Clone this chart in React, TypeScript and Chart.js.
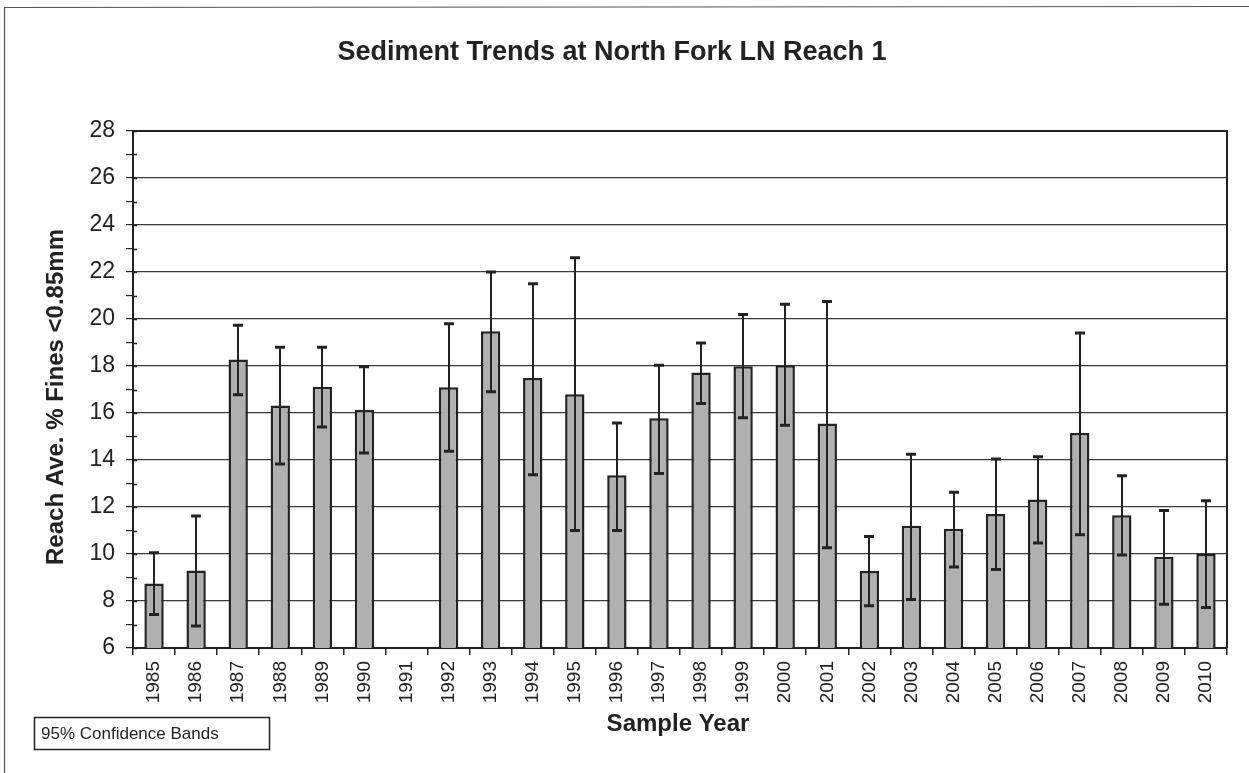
import React, { useEffect, useRef } from "react";
import { Chart, registerables } from "chart.js";

Chart.register(...registerables);

const years = [
  "1985", "1986", "1987", "1988", "1989", "1990", "1991", "1992", "1993",
  "1994", "1995", "1996", "1997", "1998", "1999", "2000", "2001", "2002",
  "2003", "2004", "2005", "2006", "2007", "2008", "2009", "2010",
];

const meanFines = [
  8.75, 9.3, 18.28, 16.32, 17.12, 16.14, null, 17.1, 19.48, 17.49, 16.8,
  13.35, 15.78, 17.72, 17.99, 18.03, 15.55, 9.28, 11.2, 11.07, 11.7, 12.32,
  15.15, 11.65, 9.88, 10.0,
];

const lowerCI = [
  7.43, 6.94, 16.78, 13.83, 15.4, 14.3, null, 14.37, 16.9, 13.37, 11.0,
  11.0, 13.43, 16.4, 15.8, 15.48, 10.27, 7.8, 8.06, 9.45, 9.34, 10.47,
  10.82, 9.96, 7.86, 7.72,
];

const upperCI = [
  10.05, 11.62, 19.73, 18.8, 18.8, 17.97, null, 19.8, 22.0, 21.5, 22.61,
  15.57, 18.03, 18.98, 20.19, 20.63, 20.74, 10.75, 14.25, 12.63, 14.04,
  14.14, 19.4, 13.33, 11.85, 12.27,
];

const yTickValues = [
  6, 7, 8, 9, 10, 11, 12, 13, 14, 15, 16, 17, 18, 19, 20, 21, 22, 23, 24,
  25, 26, 27, 28,
];

const chartTitle = "Sediment Trends at North Fork LN Reach 1";
const yAxisTitle = "Reach Ave. % Fines <0.85mm";
const xAxisTitle = "Sample Year";
const legendNote = "95% Confidence Bands";

const FONT = "'Liberation Sans', Arial, Helvetica, sans-serif";
const INK = "#222222";

const decorPlugin = {
  id: "decor",
  beforeDraw(chart: any) {
    const { ctx, width, height } = chart;
    ctx.save();
    ctx.fillStyle = "#ffffff";
    ctx.fillRect(0, 0, width, height);
    ctx.strokeStyle = "#555555";
    ctx.lineWidth = 1.2;
    ctx.beginPath();
    ctx.moveTo(4.5, height);
    ctx.lineTo(4.5, 7.5);
    ctx.lineTo(width, 6.5);
    ctx.stroke();
    ctx.restore();
  },
  afterDatasetsDraw(chart: any) {
    const { ctx } = chart;
    const yScale = chart.scales.y;
    const meta = chart.getDatasetMeta(0);
    ctx.save();
    ctx.strokeStyle = INK;
    meta.data.forEach((bar: any, i: number) => {
      const lo = lowerCI[i];
      const hi = upperCI[i];
      if (lo == null || hi == null || meanFines[i] == null) return;
      const x = Math.round(bar.x);
      const yLo = yScale.getPixelForValue(lo);
      const yHi = yScale.getPixelForValue(hi);
      ctx.lineWidth = 2;
      ctx.beginPath();
      ctx.moveTo(x, yLo);
      ctx.lineTo(x, yHi);
      ctx.stroke();
      ctx.lineWidth = 3;
      ctx.beginPath();
      ctx.moveTo(x - 5, yLo);
      ctx.lineTo(x + 5, yLo);
      ctx.moveTo(x - 5, yHi);
      ctx.lineTo(x + 5, yHi);
      ctx.stroke();
    });
    ctx.restore();
  },
  afterDraw(chart: any) {
    const { ctx, chartArea } = chart;
    const yScale = chart.scales.y;
    ctx.save();
    ctx.strokeStyle = INK;
    ctx.lineWidth = 2;
    ctx.beginPath();
    ctx.moveTo(chartArea.left, chartArea.top);
    ctx.lineTo(chartArea.right, chartArea.top);
    ctx.lineTo(chartArea.right, chartArea.bottom);
    ctx.stroke();
    ctx.lineWidth = 1.5;
    ctx.beginPath();
    yTickValues.forEach((v) => {
      const y = Math.round(yScale.getPixelForValue(v)) + 0.5;
      ctx.moveTo(chartArea.left, y);
      ctx.lineTo(chartArea.left + 4, y);
    });
    ctx.stroke();

    ctx.fillStyle = INK;
    ctx.textAlign = "center";
    ctx.textBaseline = "alphabetic";
    ctx.font = `bold 27px ${FONT}`;
    ctx.fillText(chartTitle, 612, 60);

    ctx.font = `bold 24px ${FONT}`;
    ctx.fillText(xAxisTitle, 678, 731);

    ctx.save();
    ctx.translate(63, 397);
    ctx.rotate(-Math.PI / 2);
    ctx.font = `bold 24px ${FONT}`;
    ctx.textAlign = "center";
    ctx.fillText(yAxisTitle, 0, 0);
    ctx.restore();

    ctx.strokeStyle = INK;
    ctx.lineWidth = 1.5;
    ctx.strokeRect(34.5, 717.5, 235, 32);
    ctx.font = `17px ${FONT}`;
    ctx.textAlign = "left";
    ctx.fillText(legendNote, 41, 739);
    ctx.restore();
  },
};

export default function App() {
  const canvasRef = useRef<HTMLCanvasElement | null>(null);

  useEffect(() => {
    const canvas = canvasRef.current;
    if (!canvas) return;
    const chart = new Chart(canvas, {
      type: "bar",
      data: {
        labels: years,
        datasets: [
          {
            label: "Reach Ave. % Fines",
            data: meanFines as any,
            backgroundColor: "#b0b0b0",
            borderColor: "#222222",
            borderWidth: 2.5,
            borderSkipped: false,
            categoryPercentage: 1,
            barPercentage: 0.46,
          },
        ],
      },
      options: {
        responsive: false,
        animation: false,
        devicePixelRatio: 1,
        layout: { padding: { top: 131, left: 0, right: 22, bottom: 0 } },
        plugins: {
          legend: { display: false },
          title: { display: false },
          tooltip: { enabled: false },
        },
        scales: {
          x: {
            type: "category",
            offset: true,
            afterFit: (scale: any) => {
              scale.height = 125;
            },
            grid: {
              display: true,
              offset: true,
              drawOnChartArea: false,
              drawTicks: true,
              tickLength: 7,
              color: INK,
              lineWidth: 1.5,
            },
            border: { display: true, color: INK, width: 2 },
            ticks: {
              autoSkip: false,
              minRotation: 90,
              maxRotation: 90,
              padding: 6,
              color: INK,
              font: { family: FONT, size: 19 },
            },
          },
          y: {
            type: "linear",
            min: 6,
            max: 28,
            afterFit: (scale: any) => {
              scale.width = 133;
            },
            afterBuildTicks: (scale: any) => {
              scale.ticks = yTickValues.map((v) => ({ value: v }));
            },
            grid: {
              display: true,
              drawTicks: true,
              tickLength: 7,
              color: (c: any) =>
                c.tick && c.tick.value % 2 === 0 ? "#3a3a3a" : "rgba(0,0,0,0)",
              tickColor: INK,
              lineWidth: 1.2,
            },
            border: { display: true, color: INK, width: 2 },
            ticks: {
              autoSkip: false,
              padding: 11,
              color: INK,
              font: { family: FONT, size: 23 },
              callback: (v: any) => (Number(v) % 2 === 0 ? String(v) : ""),
            },
          },
        },
      },
      plugins: [decorPlugin],
    });
    return () => chart.destroy();
  }, []);

  return (
    <div
      style={{
        position: "fixed",
        left: 0,
        top: 0,
        width: 1249,
        height: 773,
        background: "#ffffff",
      }}
    >
      <canvas
        ref={canvasRef}
        width={1249}
        height={773}
        style={{ width: 1249, height: 773, display: "block" }}
      />
    </div>
  );
}
